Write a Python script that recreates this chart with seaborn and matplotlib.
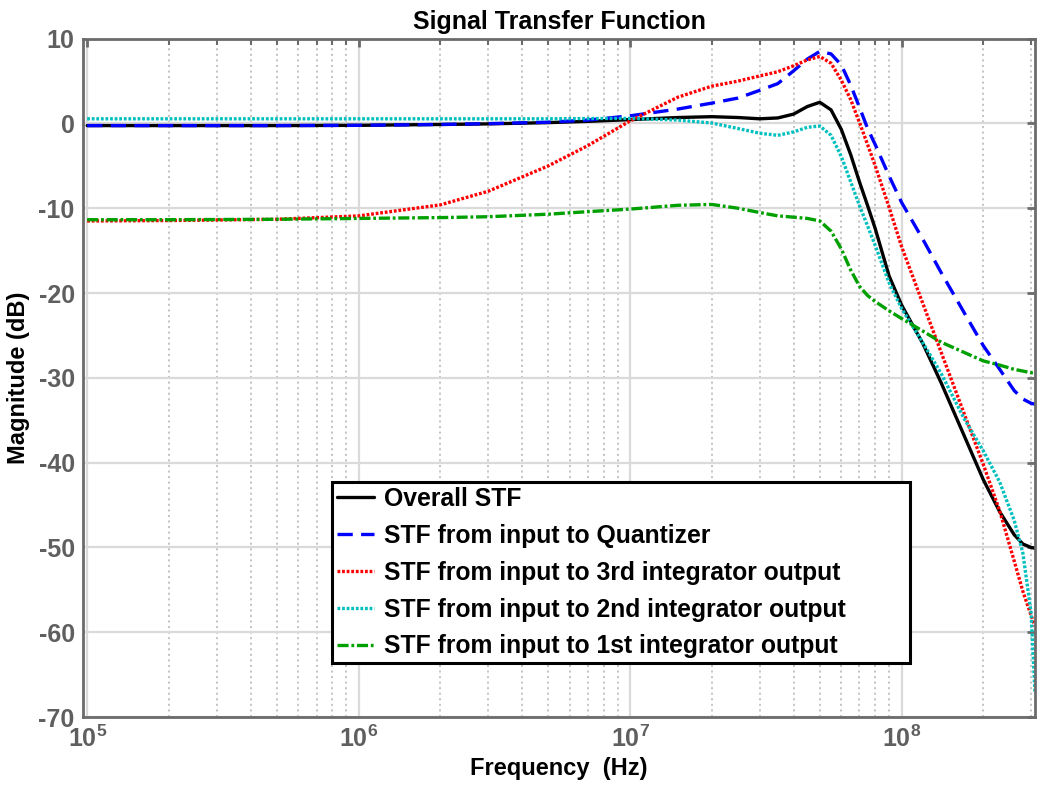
import numpy as np
import pandas as pd
import matplotlib
matplotlib.use("Agg")
import matplotlib.pyplot as plt
from matplotlib.ticker import LogLocator, FuncFormatter, NullFormatter, FixedLocator
import seaborn as sns

# Frequency points (Hz) shared by all transfer-function traces
freq_hz = [1e5, 2e5, 5e5, 1e6, 2e6, 3e6, 5e6, 7e6, 1e7, 1.5e7, 2e7, 2.5e7,
           3e7, 3.5e7, 4e7, 4.5e7, 5e7, 5.5e7, 6e7, 6.5e7, 7e7, 7.5e7, 8e7,
           9e7, 1e8, 1.2e8, 1.4e8, 1.7e8, 2e8, 2.3e8, 2.6e8, 2.8e8, 3e8, 3.1e8]

# Magnitudes in dB
overall_stf = [-0.25, -0.25, -0.25, -0.22, -0.12, -0.05, 0.1, 0.25, 0.45, 0.7,
               0.8, 0.7, 0.55, 0.65, 1.1, 2.0, 2.5, 1.6, -0.7, -3.7, -6.9,
               -9.7, -12.4, -18.0, -21.4, -26.0, -30.6, -36.8, -42.0, -45.8,
               -48.5, -49.6, -50.0, -50.1]
stf_quantizer = [-0.25, -0.25, -0.25, -0.22, -0.12, -0.02, 0.15, 0.4, 0.9, 1.7,
                 2.4, 3.0, 3.9, 4.7, 6.2, 7.6, 8.5, 8.2, 6.9, 4.5, 1.9, -0.6,
                 -2.5, -6.2, -9.3, -13.7, -17.6, -22.3, -26.2, -29.0, -31.5,
                 -32.5, -33.0, -33.1]
stf_int3 = [-11.5, -11.45, -11.3, -10.9, -9.6, -8.0, -5.0, -2.6, 0.3, 3.1, 4.4,
            5.0, 5.6, 6.1, 6.8, 7.5, 7.9, 7.1, 5.1, 2.8, 0.1, -2.5, -5.0, -9.9,
            -14.5, -21.3, -27.0, -34.2, -40.2, -45.7, -51.6, -55.2, -58.0, -59.3]
stf_int2 = [0.55, 0.55, 0.55, 0.55, 0.55, 0.55, 0.55, 0.58, 0.6, 0.4, 0.05,
            -0.6, -1.15, -1.4, -1.0, -0.45, -0.3, -1.4, -3.9, -6.9, -9.7, -12.1,
            -14.4, -18.8, -21.8, -25.9, -29.5, -34.8, -38.6, -42.3, -46.8,
            -50.7, -57.7, -67.0]
stf_int1 = [-11.35, -11.35, -11.3, -11.2, -11.1, -11.0, -10.7, -10.4, -10.1,
            -9.65, -9.55, -10.0, -10.5, -10.9, -11.05, -11.2, -11.5, -12.7,
            -14.8, -17.3, -19.2, -20.3, -21.0, -22.1, -23.0, -24.5, -25.8,
            -27.0, -28.0, -28.5, -29.0, -29.2, -29.4, -29.4]

series_labels = ["Overall STF",
                 "STF from input to Quantizer",
                 "STF from input to 3rd integrator output",
                 "STF from input to 2nd integrator output",
                 "STF from input to 1st integrator output"]
series_values = [overall_stf, stf_quantizer, stf_int3, stf_int2, stf_int1]
x_tick_exponents = [5, 6, 7, 8]
y_ticks = [-70, -60, -50, -40, -30, -20, -10, 0, 10]

sns.set_style("white")
plt.rcParams["font.family"] = ["Liberation Sans", "DejaVu Sans"]
plt.rcParams["font.weight"] = "bold"
plt.rcParams["text.color"] = "black"
plt.rcParams["axes.labelcolor"] = "black"
plt.rcParams["axes.unicode_minus"] = False
plt.rcParams["mathtext.fontset"] = "custom"
plt.rcParams["mathtext.rm"] = "Liberation Sans:bold"
plt.rcParams["mathtext.bf"] = "Liberation Sans:bold"
plt.rcParams["mathtext.it"] = "Liberation Sans:bold"
plt.rcParams["lines.scale_dashes"] = False

fig = plt.figure(figsize=(10.37, 7.99), dpi=100)
ax = fig.add_axes([0.080, 0.1026, 0.918, 0.849])
ax.set_xscale("log")

line_styles = ["-", (0, (11, 6)), (0, (2, 1.3)), (0, (2, 1.3)), (0, (8, 2, 2, 2))]
line_colors = ["black", "#0000ff", "#ff0000", "#00bfbf", "#00a000"]

frames = []
for lab, vals in zip(series_labels, series_values):
    frames.append(pd.DataFrame({"freq": freq_hz, "mag": vals, "series": lab}))
df = pd.concat(frames, ignore_index=True)

for lab, ls, col in zip(series_labels, line_styles, line_colors):
    sub = df[df["series"] == lab]
    sns.lineplot(data=sub, x="freq", y="mag", ax=ax, color=col,
                 linestyle=ls, linewidth=2.4, label=lab)

ax.set_xlim(0.965e5, 3.1e8)
ax.set_ylim(-70, 10)

ax.xaxis.set_major_locator(FixedLocator([10.0 ** e for e in x_tick_exponents]))
ax.xaxis.set_minor_locator(LogLocator(base=10, subs=np.arange(2, 10), numticks=20))
ax.xaxis.set_major_formatter(FuncFormatter(
    lambda v, p: r"$\mathbf{10^{%d}}$" % int(round(np.log10(v)))))
ax.xaxis.set_minor_formatter(NullFormatter())
ax.set_yticks(y_ticks)

ax.set_axisbelow(True)
ax.grid(which="major", color="#dadada", linewidth=1.6, linestyle="-")
ax.grid(which="minor", axis="x", color="#c4c4c4", linewidth=1.4,
        linestyle=(0, (1.5, 2.5)))

spine_col = "#6b6b6b"
for s in ax.spines.values():
    s.set_visible(True)
    s.set_color(spine_col)
    s.set_linewidth(2.0)

ax.tick_params(which="both", direction="in", color=spine_col, top=True,
               right=True, labelcolor="#5f5f5f")
ax.tick_params(which="major", length=6, width=2, labelsize=18, pad=6)
ax.tick_params(which="minor", length=4, width=1.5)
for t in ax.get_yticklabels():
    t.set_fontweight("bold")

ax.set_title("Signal Transfer Function", fontsize=18, fontweight="bold",
             pad=7, color="black")
ax.set_xlabel("Frequency  (Hz)", fontsize=17, fontweight="bold", labelpad=4)
ax.set_ylabel("Magnitude (dB)", fontsize=17, fontweight="bold", labelpad=6)

leg = ax.legend(loc="upper left", bbox_to_anchor=(0.2616, 0.078, 0.607, 0.2684),
                mode="expand", frameon=True, fancybox=False, edgecolor="black",
                framealpha=1, borderaxespad=0,
                prop={"weight": "bold", "size": 17.8},
                handlelength=1.5, handletextpad=0.4, labelspacing=0.52,
                borderpad=0.2)
leg.get_frame().set_linewidth(2.2)
for txt in leg.get_texts():
    txt.set_color("black")

fig.savefig("out.png", dpi=100, facecolor="white")
